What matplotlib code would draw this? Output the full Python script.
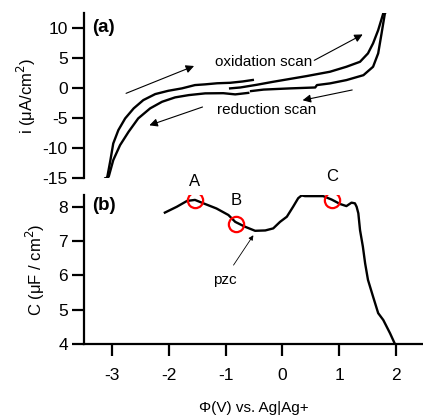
import matplotlib
matplotlib.use("Agg")
import matplotlib.pyplot as plt

plt.rcParams['font.family'] = ['Liberation Sans', 'DejaVu Sans']
plt.rcParams['axes.unicode_minus'] = False

# (a) cyclic voltammogram
ox1_v = [-3.12, -3.09, -3.03, -2.98, -2.89, -2.77, -2.62, -2.45, -2.24, -2.01, -1.77,
         -1.54, -1.36, -1.15, -0.92, -0.70, -0.52]
ox1_i = [-15.0, -15.0, -11.95, -9.17, -6.95, -5.0, -3.33, -1.95, -0.95, -0.4, 0.0,
         0.55, 0.67, 0.85, 0.93, 1.15, 1.4]
ox2_v = [-0.92, -0.74, -0.45, -0.16, 0.43, 0.84, 1.13, 1.37, 1.51, 1.60, 1.69, 1.78, 1.81]
ox2_i = [0.0, 0.15, 0.6, 1.1, 2.05, 2.77, 3.6, 4.43, 5.83, 7.5, 9.7, 12.5, 12.6]
red1_v = [1.81, 1.75, 1.69, 1.60, 1.43, 1.13, 0.84, 0.61, 0.58, 0.14, -0.33, -0.55]
red1_i = [12.6, 9.17, 5.83, 3.6, 2.2, 1.38, 0.83, 0.55, 0.15, 0.0, -0.2, -0.45]
red2_v = [-0.60, -0.83, -1.04, -1.36, -1.65, -1.89, -2.12, -2.33, -2.54, -2.71, -2.86,
          -2.98, -3.06, -3.12]
red2_i = [-0.75, -1.0, -0.8, -0.83, -1.12, -1.5, -2.23, -3.33, -5.0, -7.23, -9.45,
          -11.95, -14.7, -15.0]

# (b) capacitance
cap_v = [-2.07, -1.86, -1.68, -1.54, -1.39, -1.16, -0.95, -0.83, -0.66, -0.48, -0.30,
         -0.16, -0.04, 0.08, 0.19, 0.28, 0.34, 0.40, 0.72, 0.87, 1.02, 1.13, 1.22, 1.28,
         1.31, 1.34, 1.37, 1.42, 1.46, 1.51, 1.60, 1.69, 1.78, 1.90, 1.98]
cap_c = [7.83, 8.0, 8.17, 8.2, 8.1, 7.95, 7.76, 7.56, 7.42, 7.30, 7.31,
         7.37, 7.56, 7.71, 8.0, 8.25, 8.33, 8.31, 8.31, 8.21, 8.08, 8.02, 8.12, 8.1,
         8.0, 7.81, 7.32, 6.84, 6.35, 5.87, 5.38, 4.9, 4.70, 4.31, 4.02]
pts_v = [-1.54, -0.82, 0.87]
pts_c = [8.2, 7.51, 8.21]
pts_lab = ['A', 'B', 'C']
lab_c = [8.73, 8.17, 8.87]

fig = plt.figure(figsize=(4.23, 4.16), dpi=100)
ax1 = fig.add_axes([0.198, 0.571, 0.802, 0.397])
ax2 = fig.add_axes([0.198, 0.173, 0.802, 0.358])

lw = 1.7
for ax in (ax1, ax2):
    ax.set_xlim(-3.5, 2.48)
    for s in ('top', 'right'):
        ax.spines[s].set_visible(False)
    for s in ('left', 'bottom'):
        ax.spines[s].set_linewidth(1.6)
    ax.tick_params(direction='out', length=8.5, width=1.6, labelsize=12.5, pad=3)
ax2.tick_params(axis='x', pad=9)

ax1.spines['bottom'].set_visible(False)
ax1.set_xticks([])
ax1.set_ylim(-15, 12.5)
ax1.set_yticks([10, 5, 0, -5, -10, -15])
for v, i in ((ox1_v, ox1_i), (ox2_v, ox2_i), (red1_v, red1_i), (red2_v, red2_i)):
    ax1.plot(v, i, color='black', lw=lw, solid_joinstyle='round')

arr = dict(arrowstyle='-|>', color='black', lw=0.8, mutation_scale=12)
ax1.annotate('', xy=(-1.51, 3.9), xytext=(-2.80, -1.0), arrowprops=arr)
ax1.annotate('', xy=(-2.39, -6.3), xytext=(-1.36, -2.95), arrowprops=arr)
ax1.annotate('', xy=(1.46, 9.2), xytext=(0.52, 4.45), arrowprops=arr)
ax1.annotate('', xy=(0.31, -2.07), xytext=(1.28, -0.17), arrowprops=arr)
ax1.text(0.53, 4.45, 'oxidation scan', ha='right', va='center', fontsize=11)
ax1.text(-0.27, -3.6, 'reduction scan', ha='center', va='center', fontsize=11)
ax1.text(-3.36, 10.2, '(a)', fontweight='bold', fontsize=13.5, va='center')
ax1.set_ylabel('i (\u03bcA/cm$^2$)', fontsize=12, labelpad=3)

ax2.set_ylim(4, 8.34)
ax2.set_yticks([4, 5, 6, 7, 8])
ax2.set_xticks([-3, -2, -1, 0, 1, 2])
ax2.plot(cap_v, cap_c, color='black', lw=lw, solid_joinstyle='round')
ax2.plot(pts_v, pts_c, 'o', mfc='none', mec='red', ms=11, mew=1.6)
for v, c, t in zip(pts_v, lab_c, pts_lab):
    ax2.text(v, c, t, ha='center', va='center', fontsize=12, clip_on=False)
ax2.annotate('', xy=(-0.51, 7.17), xytext=(-0.86, 6.3),
             arrowprops=dict(arrowstyle='-|>', color='black', lw=0.6,
                             mutation_scale=7, shrinkA=0, shrinkB=0))
ax2.text(-1.01, 5.86, 'pzc', ha='center', va='center', fontsize=11)
ax2.text(-3.36, 8.05, '(b)', fontweight='bold', fontsize=13.5, va='center')
ax2.set_ylabel('C (\u03bcF / cm$^2$)', fontsize=12, labelpad=8)
ax2.set_xlabel('\u03a6(V) vs. Ag|Ag+', fontsize=11, labelpad=13)

fig.savefig('out.png', dpi=100)
